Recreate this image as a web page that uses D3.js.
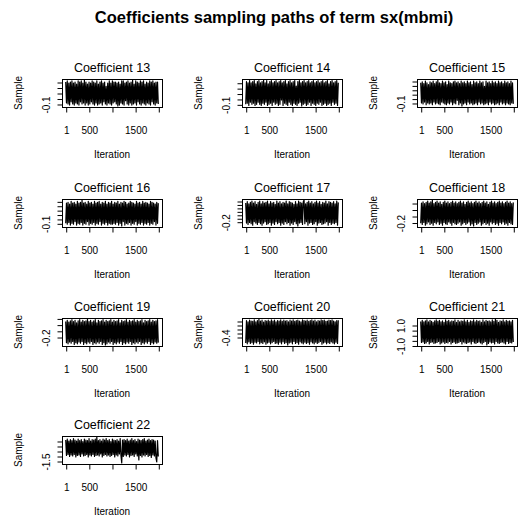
<!DOCTYPE html>
<html><head><meta charset="utf-8">
<script src="https://cdn.jsdelivr.net/npm/d3@7"></script>
<style>
body{margin:0;background:#fff}
svg text{font-family:"Liberation Sans",Arial,sans-serif;fill:#000}
</style>
</head><body>
<svg id="chart" width="520" height="518"></svg>
<script>
const mainTitle = "Coefficients sampling paths of term sx(mbmi)";
const coefficientNames = ["Coefficient 13","Coefficient 14","Coefficient 15","Coefficient 16","Coefficient 17","Coefficient 18","Coefficient 19","Coefficient 20","Coefficient 21","Coefficient 22"];
const xAxisTitle = "Iteration";
const yAxisTitle = "Sample";
const nIterations = 2000;
const xTicks = [1, 500, 1000, 1500, 2000];
const xTickLabels = ["1", "500", "", "1500", ""];

const coef13 = [0.10,-0.09,0.11,-0.10,0.09,-0.11,0.10,-0.08,0.11,-0.10,0.09,-0.11,0.10,-0.09,0.08,-0.10,0.11,-0.11,0.10,-0.08,0.11,-0.10,0.09,-0.09,0.118,-0.11,0.10,-0.09,0.08,-0.11,0.10,-0.10,0.09,-0.08,0.11,-0.10,0.10,-0.11,0.09,-0.09,0.11,-0.11,0.08,-0.10,0.10,-0.09,0.11,-0.11,0.09,-0.08,0.10,-0.10,0.06,-0.11,0.09,-0.09,0.11,-0.10,0.09,-0.11,0.11,-0.09,0.10,-0.08,0.10,-0.10,0.09,-0.118,0.10,-0.11,0.08,-0.09,0.11,-0.10,0.11,-0.11,0.09,-0.07,0.10,-0.10,0.11,-0.11,0.09,-0.09,0.10,-0.11,0.117,-0.10,0.08,-0.09,0.11,-0.11,0.10,-0.08,0.09,-0.10,0.11,-0.11,0.10,-0.09,0.11,-0.10,0.08,-0.11,0.10,-0.09,0.09,-0.10,0.11,-0.11,0.10,-0.08,0.11,-0.10,0.09,-0.11,0.10,-0.09,0.10,-0.10];
const coef14 = [-0.10,0.11,-0.09,0.10,-0.11,0.12,-0.08,0.10,-0.10,0.11,-0.09,0.12,-0.11,0.09,-0.10,0.11,-0.08,0.12,-0.10,0.10,-0.11,0.11,-0.09,0.125,-0.10,0.10,-0.08,0.12,-0.11,0.09,-0.10,0.11,-0.09,0.12,-0.11,0.10,-0.08,0.11,-0.10,0.12,-0.09,0.10,-0.11,0.11,-0.10,0.12,-0.06,0.10,-0.11,0.11,-0.09,0.12,-0.10,0.09,-0.11,0.11,-0.08,0.12,-0.10,0.10,-0.11,0.11,-0.09,0.12,-0.10,0.07,-0.11,0.11,-0.09,0.12,-0.08,0.10,-0.115,0.11,-0.10,0.12,-0.09,0.10,-0.11,0.11,-0.10,0.12,-0.08,0.10,-0.11,0.11,-0.09,0.12,-0.10,0.10,-0.11,0.11,-0.09,0.12,-0.10,0.10,-0.08,0.11,-0.11,0.12,-0.10,0.10,-0.09,0.11,-0.11,0.12,-0.10,0.09,-0.09,0.11,-0.11,0.12,-0.08,0.10,-0.10,0.11,-0.09,0.12,-0.11,0.10];
const coef15 = [0.13,-0.10,0.14,-0.11,0.12,-0.09,0.15,-0.12,0.13,-0.10,0.11,-0.11,0.14,-0.10,0.13,-0.12,0.15,-0.09,0.12,-0.11,0.14,-0.10,0.161,-0.11,0.13,-0.12,0.12,-0.09,0.15,-0.10,0.13,-0.11,0.14,-0.12,0.11,-0.10,0.15,-0.11,0.13,-0.09,0.12,-0.12,0.14,-0.10,0.15,-0.11,0.13,-0.07,0.14,-0.12,0.12,-0.10,0.15,-0.134,0.13,-0.11,0.14,-0.10,0.12,-0.12,0.15,-0.09,0.13,-0.11,0.14,-0.10,0.11,-0.12,0.15,-0.11,0.13,-0.10,0.14,-0.12,0.12,-0.09,0.15,-0.11,0.13,-0.10,0.14,-0.12,0.09,-0.11,0.15,-0.10,0.13,-0.12,0.14,-0.09,0.12,-0.11,0.15,-0.10,0.13,-0.12,0.14,-0.11,0.12,-0.10,0.15,-0.12,0.13,-0.09,0.14,-0.11,0.12,-0.10,0.15,-0.12,0.13,-0.10,0.14,-0.11,0.12,-0.12,0.15,-0.10,0.13,-0.11];
const coef16 = [-0.10,0.13,-0.11,0.14,-0.09,0.12,-0.12,0.15,-0.10,0.13,-0.11,0.14,-0.08,0.12,-0.12,0.15,-0.10,0.13,-0.11,0.14,-0.09,0.165,-0.12,0.13,-0.10,0.14,-0.11,0.12,-0.08,0.15,-0.12,0.13,-0.10,0.14,-0.11,0.12,-0.09,0.15,-0.12,0.13,-0.10,0.14,-0.11,0.15,-0.08,0.12,-0.12,0.14,-0.10,0.13,-0.11,0.15,-0.09,0.12,-0.12,0.14,-0.10,0.13,-0.11,0.15,-0.11,0.12,-0.10,0.14,-0.11,0.13,-0.09,0.15,-0.12,0.12,-0.10,0.14,-0.13,0.13,-0.08,0.15,-0.12,0.14,-0.10,0.12,-0.11,0.13,-0.09,0.15,-0.12,0.14,-0.10,0.13,-0.11,0.12,-0.08,0.15,-0.12,0.13,-0.10,0.14,-0.11,0.12,-0.09,0.15,-0.12,0.13,-0.10,0.14,-0.11,0.13,-0.09,0.12,-0.12,0.15,-0.10,0.14,-0.11,0.13,-0.08,0.12,-0.12,0.14,-0.10,0.13];
const coef17 = [0.07,-0.22,0.09,-0.24,0.06,-0.21,0.08,-0.23,0.10,-0.25,0.07,-0.20,0.09,-0.22,0.05,-0.24,0.08,-0.21,0.10,-0.23,0.06,-0.25,0.09,-0.22,0.07,-0.20,0.08,-0.24,0.10,-0.23,0.06,-0.21,0.09,-0.25,0.07,-0.22,0.08,-0.24,0.05,-0.20,0.10,-0.23,0.07,-0.21,0.09,-0.25,0.06,-0.22,0.08,-0.24,0.07,-0.20,0.10,-0.23,0.06,-0.21,0.09,-0.25,0.08,-0.22,0.07,-0.24,0.05,-0.20,0.09,-0.23,0.06,-0.262,0.10,-0.22,0.08,-0.21,0.07,-0.24,0.09,0.114,-0.23,0.06,-0.20,0.08,-0.25,0.10,-0.22,0.07,-0.21,0.09,-0.24,0.06,-0.23,0.08,-0.20,0.10,-0.25,0.07,-0.22,0.09,-0.21,0.05,-0.24,0.08,-0.23,0.07,-0.22,0.10,-0.20,0.06,-0.25,0.09,-0.21,0.08,-0.24,0.07,-0.22,0.09,-0.23,0.06,-0.21,0.10,-0.25,0.08];
const coef18 = [-0.21,0.10,-0.23,0.12,-0.20,0.09,-0.24,0.11,-0.22,0.13,-0.19,0.10,-0.23,0.12,-0.21,0.146,-0.24,0.09,-0.20,0.11,-0.22,0.13,-0.19,0.10,-0.23,0.12,-0.21,0.08,-0.24,0.11,-0.20,0.13,-0.22,0.10,-0.23,0.12,-0.19,0.09,-0.21,0.11,-0.24,0.13,-0.20,0.10,-0.22,0.12,-0.23,0.09,-0.21,0.11,-0.19,0.13,-0.24,0.10,-0.22,0.12,-0.20,0.08,-0.23,0.11,-0.21,0.13,-0.19,0.10,-0.24,0.12,-0.22,0.09,-0.253,0.11,-0.20,0.13,-0.23,0.10,-0.21,0.12,-0.19,0.09,-0.24,0.11,-0.22,0.13,-0.20,0.10,-0.23,0.12,-0.21,0.08,-0.24,0.11,-0.19,0.13,-0.22,0.10,-0.20,0.12,-0.23,0.09,-0.21,0.11,-0.24,0.13,-0.20,0.10,-0.22,0.12,-0.19,0.09,-0.23,0.11,-0.21,0.13,-0.24,0.10,-0.20,0.12,-0.22,0.09,-0.23,0.11];
const coef19 = [0.05,-0.29,0.07,-0.31,0.04,-0.28,0.06,-0.30,0.08,-0.27,0.05,-0.32,0.07,-0.29,0.03,-0.31,0.06,-0.28,0.08,-0.30,0.04,-0.27,0.07,-0.32,0.05,-0.29,0.06,-0.31,0.09,-0.28,0.05,-0.30,0.07,-0.27,0.04,-0.32,0.06,-0.29,0.08,-0.31,0.03,-0.28,0.07,-0.30,0.05,-0.27,0.06,-0.32,0.08,-0.29,0.04,-0.328,0.07,-0.31,0.05,-0.28,0.06,-0.30,0.08,-0.27,0.04,-0.32,0.07,-0.29,0.05,-0.31,0.06,-0.28,0.08,-0.30,0.03,-0.27,0.07,-0.32,0.05,-0.29,0.06,-0.31,0.08,-0.28,0.04,-0.30,0.07,-0.27,0.05,-0.32,0.06,-0.29,0.08,-0.31,0.04,-0.28,0.07,-0.30,0.05,-0.27,0.06,-0.32,0.08,-0.29,0.03,-0.31,0.07,-0.28,0.05,-0.30,0.06,-0.27,0.08,-0.32,0.04,-0.29,0.07,-0.31,0.05,-0.28,0.06,-0.30,0.08,-0.29];
const coef20 = [-0.55,0.01,-0.57,-0.02,-0.52,0.02,-0.56,0.00,-0.54,-0.01,-0.58,0.03,-0.53,-0.02,-0.55,0.01,-0.51,0.049,-0.57,0.00,-0.54,0.02,-0.56,-0.03,-0.52,0.01,-0.58,0.00,-0.55,0.02,-0.53,-0.01,-0.57,0.03,-0.54,0.00,-0.51,0.02,-0.56,-0.02,-0.55,0.01,-0.58,0.00,-0.53,0.03,-0.57,-0.01,-0.52,0.02,-0.56,0.00,-0.54,0.01,-0.599,-0.02,-0.55,0.02,-0.53,0.00,-0.57,0.03,-0.51,-0.01,-0.56,0.01,-0.54,0.02,-0.58,0.00,-0.52,-0.02,-0.55,0.03,-0.57,0.01,-0.53,0.00,-0.56,0.02,-0.54,-0.01,-0.58,0.01,-0.52,0.03,-0.55,0.00,-0.57,0.02,-0.53,-0.02,-0.56,0.01,-0.54,0.00,-0.51,0.03,-0.58,0.01,-0.55,0.02,-0.53,-0.01,-0.57,0.00,-0.54,0.02,-0.56,0.01,-0.52,0.03,-0.55,0.00,-0.57,-0.02,-0.53,0.01,-0.56,0.02];
const coef21 = [1.35,-0.70,1.45,-0.65,1.30,-0.80,1.40,-0.75,1.50,-0.60,1.30,-0.85,1.45,-0.70,1.35,-0.65,1.25,-0.80,1.40,-0.75,1.50,-0.70,1.35,-0.60,1.45,-0.85,1.30,-0.75,1.40,-0.65,1.25,-0.80,1.50,-0.70,1.35,-0.75,1.45,-0.60,1.30,-0.85,1.40,-0.70,1.35,-0.65,1.50,-0.80,1.25,-0.75,1.45,-0.70,1.30,-0.60,1.40,-0.85,1.35,-0.65,1.50,-0.75,1.30,-0.80,1.45,-0.70,1.25,-0.65,1.40,-0.85,1.35,-0.60,1.50,-0.75,1.30,-0.80,1.45,-0.70,1.35,-0.65,1.40,-0.75,1.25,-0.85,1.50,-0.70,1.30,-0.60,1.45,-0.948,1.35,-0.80,1.40,-0.65,1.30,-0.75,1.50,-0.70,1.35,-0.85,1.582,-0.60,1.45,-0.75,1.25,-0.80,1.40,-0.70,1.35,-0.65,1.50,-0.75,1.30,-0.85,1.45,-0.60,1.35,-0.80,1.40,-0.70,1.30,-0.75,1.45,-0.65];
const coef22 = [0.60,-0.95,0.70,-0.85,0.50,-1.05,0.65,-0.90,0.55,-1.00,0.75,-0.85,0.60,-1.10,0.50,-0.95,0.70,-0.90,0.55,-1.05,0.65,-0.80,0.45,-1.00,0.70,-0.95,0.60,-0.85,0.55,-1.10,0.75,-0.90,0.50,-1.00,0.65,-0.85,0.60,-1.05,0.70,-0.95,0.896,-0.90,0.55,-1.00,0.65,-0.80,0.50,-1.10,0.70,-0.95,0.60,-0.85,0.75,-1.00,0.55,-0.90,0.65,-1.05,0.45,-0.95,0.70,-0.85,0.60,-1.10,0.55,-0.90,0.65,-1.00,0.50,-0.80,0.75,-0.95,-1.696,0.60,-1.05,0.65,-0.90,0.55,-1.00,0.70,-0.85,0.50,-1.10,0.60,-0.95,0.75,-0.90,0.55,-1.05,0.65,-0.80,0.45,-1.00,0.70,-1.40,0.60,-0.95,0.55,-1.10,0.65,-0.90,0.75,-1.00,0.50,-0.85,0.60,-1.05,0.70,-0.95,0.55,-1.15,0.65,-0.90,0.60,-1.00,0.50,-1.20,-1.60,0.55,-1.05];
const sampleSeries = [coef13, coef14, coef15, coef16, coef17, coef18, coef19, coef20, coef21, coef22];

const yTicks = [
  [-0.1,-0.05,0,0.05,0.1],
  [-0.1,-0.05,0,0.05,0.1],
  [-0.1,-0.05,0,0.05,0.1,0.15],
  [-0.1,-0.05,0,0.05,0.1,0.15],
  [-0.2,-0.15,-0.1,-0.05,0,0.05,0.1],
  [-0.2,-0.1,0,0.1],
  [-0.2,-0.1,0,0.1],
  [-0.4,-0.3,-0.2,-0.1,0],
  [-1.0,-0.5,0,0.5,1.0],
  [-1.5,-1.0,-0.5,0,0.5]
];
const yTickLabels = [
  ["-0.1","","","",""],
  ["-0.1","","","",""],
  ["-0.1","","","","",""],
  ["-0.1","","","","",""],
  ["-0.2","","","","","",""],
  ["-0.2","","",""],
  ["-0.2","","",""],
  ["-0.4","","","",""],
  ["-1.0","","","","1.0"],
  ["-1.5","","","",""]
];

// layout
const colX = [62, 242, 417];
const rowY = [79, 198.5, 318, 436];
const boxW = 100, boxH = 28;
const FONT = '"Liberation Sans", Arial, sans-serif';

const svg = d3.select("#chart");
svg.append("rect").attr("width",520).attr("height",518).attr("fill","#fff");

svg.append("text").attr("x",274).attr("y",23).attr("text-anchor","middle")
  .attr("font-size",16.5).attr("font-weight","bold").text(mainTitle);

sampleSeries.forEach((vals, k) => {
  const x0 = colX[k % 3], y0 = Math.round(rowY[Math.floor(k / 3)]);
  const g = svg.append("g").attr("transform", `translate(${x0},${y0})`);
  const ext = d3.extent(vals);
  const pad = (ext[1] - ext[0]) * 0.04;
  const y = d3.scaleLinear().domain([ext[0] - pad, ext[1] + pad]).range([boxH, 0]);
  const xpad = (nIterations - 1) * 0.04;
  const x = d3.scaleLinear().domain([1 - xpad, nIterations + xpad]).range([0, boxW]);
  const iter = vals.map((_, i) => 1 + i * (nIterations - 1) / (vals.length - 1));

  g.append("path").datum(vals)
    .attr("d", d3.line().x((d, i) => x(iter[i])).y(d => y(d)))
    .attr("fill","none").attr("stroke","#000").attr("stroke-width",1.2)
    .attr("stroke-linejoin","round");

  g.append("rect").attr("x",0.5).attr("y",0.5).attr("width",boxW).attr("height",boxH)
    .attr("fill","none").attr("stroke","#000").attr("stroke-width",1);

  // x axis
  const xa = g.append("g").attr("transform", `translate(0.5,${boxH + 0.5})`)
    .call(d3.axisBottom(x).tickValues(xTicks).tickFormat((d, i) => xTickLabels[i]).tickSize(5).tickSizeOuter(0));
  xa.select(".domain").remove();
  xa.selectAll("line").attr("stroke","#000");
  xa.selectAll("text").attr("y",26.5).attr("dy",null).attr("font-size",10).attr("font-family",FONT).attr("fill","#000");

  // y axis
  const ya = g.append("g").attr("transform", "translate(0.5,0.5)")
    .call(d3.axisLeft(y).tickValues(yTicks[k]).tickFormat((d, i) => yTickLabels[k][i]).tickSize(5).tickSizeOuter(0));
  ya.select(".domain").remove();
  ya.selectAll("line").attr("stroke","#000");
  ya.selectAll("text").attr("x",null).attr("dy",null).attr("text-anchor","middle")
    .attr("transform","translate(-13,0) rotate(-90)")
    .attr("font-size",10).attr("font-family",FONT).attr("fill","#000");

  // titles
  g.append("text").attr("x", boxW / 2).attr("y", -7).attr("text-anchor","middle")
    .attr("font-size",12.5).text(coefficientNames[k]);
  g.append("text").attr("x", boxW / 2).attr("y", boxH + 51).attr("text-anchor","middle")
    .attr("font-size",10).text(xAxisTitle);
  g.append("text").attr("transform", `translate(-40,${boxH / 2}) rotate(-90)`).attr("text-anchor","middle")
    .attr("font-size",10).text(yAxisTitle);
});
</script>
</body></html>
